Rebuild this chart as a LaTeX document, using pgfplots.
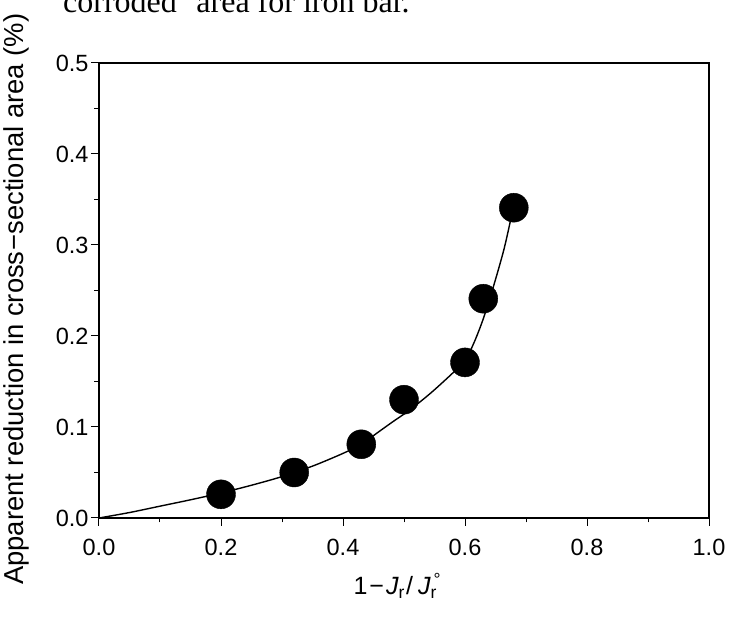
\documentclass[border=0pt]{standalone}
\usepackage{pgfplots}
\pgfplotsset{compat=1.18}
\usepackage{fontspec}
\setmainfont{Liberation Sans}
\newfontfamily\serifcap{Liberation Serif}
\begin{document}
\begin{tikzpicture}[x=1pt,y=1pt]
\useasboundingbox (0,0) rectangle (729,621);
\node[anchor=base west, inner sep=0pt, font=\serifcap\fontsize{32}{36}\selectfont] at (63,608) {corroded'' area for iron bar.};
\begin{axis}[
  scale only axis,
  width=610pt, height=455pt,
  at={(99pt,103pt)}, anchor=south west,
  xmin=0, xmax=1, ymin=0, ymax=0.5,
  xtick={0,0.2,...,1.0}, ytick={0,0.1,...,0.5},
  minor tick num=1,
  tick align=outside,
  xtick pos=bottom, ytick pos=left,
  major tick length=8pt, minor tick length=4.5pt,
  every tick/.style={black, line width=1pt},
  axis line style={line width=1.2pt},
  /pgf/number format/assume math mode=true,
  /pgf/number format/fixed, /pgf/number format/fixed zerofill, /pgf/number format/precision=1,
  tick label style={font=\fontsize{23.5}{25}\selectfont},
  xticklabel style={yshift=-10pt},
  yticklabel style={xshift=1pt},
  every axis y label/.style={at={(axis description cs:-0.135,0.481)}, rotate=90, anchor=center, font=\fontsize{27.4}{30}\selectfont},
  every axis x label/.style={at={(axis description cs:0.489,-0.169)}, anchor=base, font=\fontsize{25}{28}\selectfont},
  ylabel={Apparent reduction in cross\kern0.5pt−\kern0.5pt sectional area (\%)},
  xlabel={1\kern2pt−\kern2pt\textit{J}\textsubscript{r}\kern1pt/\kern5pt\textit{J}\rlap{\textsuperscript{\,°}}\textsubscript{r}\kern4pt},
  clip=false,
]
\addplot[black, line width=1.4pt, smooth, tension=0.5] coordinates {
(0,0) (0.05,0.006) (0.1,0.013) (0.15,0.020) (0.2,0.0275) (0.25,0.036) (0.3,0.0455)
(0.35,0.057) (0.4,0.071) (0.43,0.081) (0.455,0.093) (0.48,0.105) (0.51,0.119)
(0.545,0.138) (0.581,0.160) (0.6,0.173) (0.615,0.193) (0.63,0.219) (0.646,0.253)
(0.663,0.293) (0.673,0.322) (0.678,0.338)
};
\addplot[only marks, mark=*, mark size=14.5pt, black, mark options={fill=black}] coordinates {
(0.2,0.026) (0.32,0.050) (0.43,0.081) (0.5,0.130) (0.6,0.171) (0.63,0.241) (0.68,0.341)
};
\end{axis}
\end{tikzpicture}
\end{document}
